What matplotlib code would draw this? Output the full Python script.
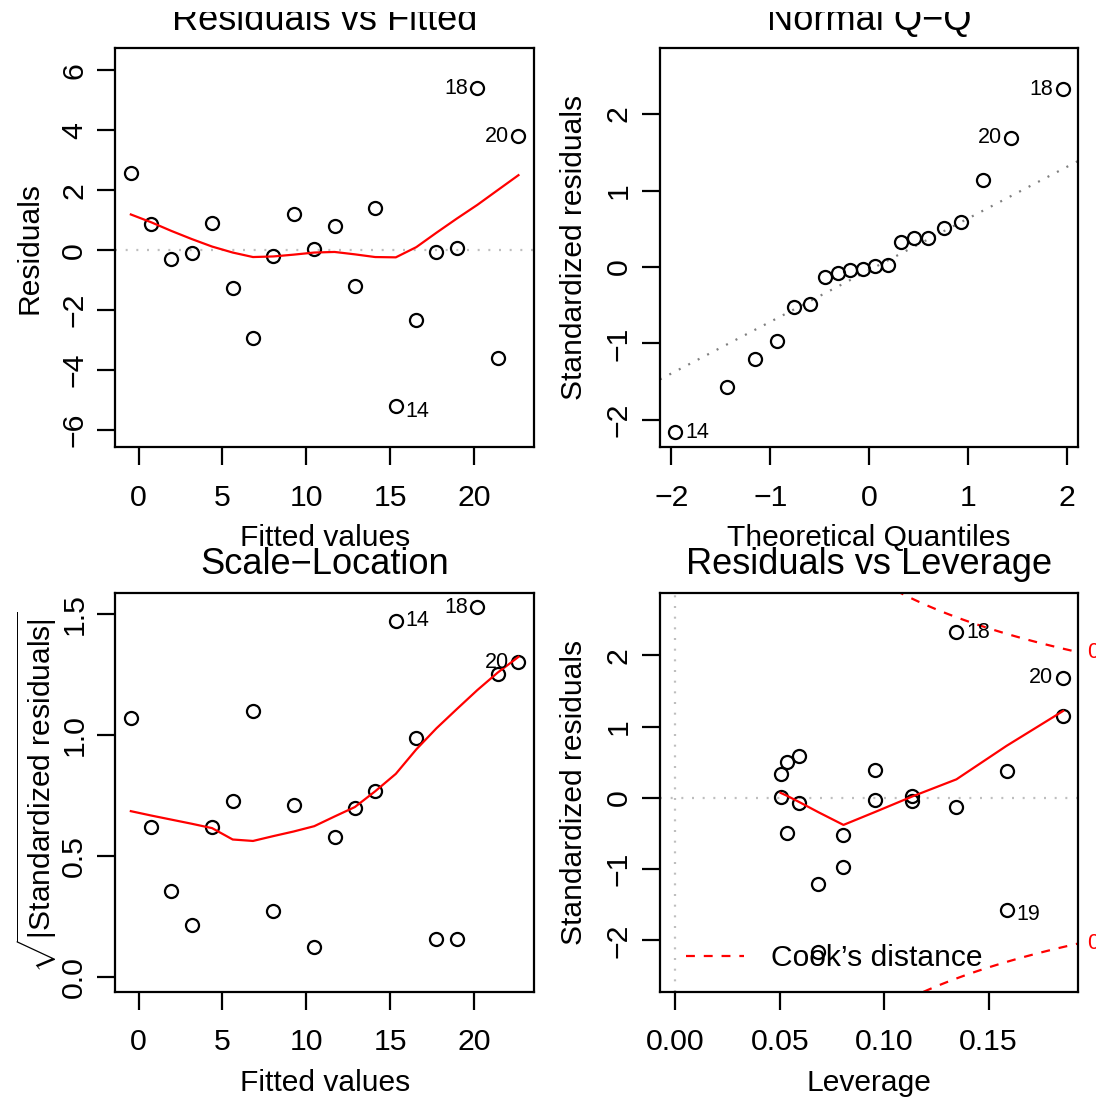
import numpy as np
import matplotlib
matplotlib.use("Agg")
import matplotlib.pyplot as plt
from matplotlib.lines import Line2D
from matplotlib.transforms import Bbox, TransformedBbox

plt.rcParams['font.family'] = ['Liberation Sans', 'DejaVu Sans']
plt.rcParams['mathtext.fontset'] = 'custom'
plt.rcParams['mathtext.rm'] = 'Liberation Sans'
plt.rcParams['mathtext.it'] = 'Liberation Sans:italic'
plt.rcParams['mathtext.bf'] = 'Liberation Sans:bold'
plt.rcParams['axes.unicode_minus'] = True

# ---------------- data ----------------
obs_ids = list(range(1, 21))
fitted = [-0.46, 0.75, 1.96, 3.17, 4.38, 5.61, 6.82, 8.03, 9.24, 10.47,
          11.68, 12.89, 14.10, 15.33, 16.55, 17.75, 18.96, 20.19, 21.40, 22.64]
residuals = [2.58, 0.87, -0.29, -0.09, 0.92, -1.26, -2.92, -0.19, 1.22, 0.05,
             0.80, -1.18, 1.41, -5.21, -2.32, -0.06, 0.06, 5.39, -3.58, 3.79]
std_resid = [1.143, 0.381, -0.125, -0.045, 0.384, -0.527, -1.208, -0.073, 0.504, 0.015,
             0.332, -0.487, 0.587, -2.164, -0.970, -0.025, 0.024, 2.326, -1.568, 1.687]
leverage = [0.1857, 0.1586, 0.1346, 0.1135, 0.0955, 0.0805, 0.0684, 0.0594, 0.0534, 0.0504,
            0.0504, 0.0534, 0.0594, 0.0684, 0.0805, 0.0955, 0.1135, 0.1346, 0.1586, 0.1857]
theoretical_q = [-1.96, -1.44, -1.15, -0.93, -0.76, -0.60, -0.45, -0.32, -0.19, -0.06,
                 0.06, 0.19, 0.32, 0.45, 0.60, 0.76, 0.93, 1.15, 1.44, 1.96]
# red smoother curves, read at each x position
fit_smooth = [1.19, 0.93, 0.64, 0.37, 0.12, -0.08, -0.23, -0.21, -0.15, -0.08,
              -0.06, -0.14, -0.23, -0.24, 0.10, 0.58, 1.05, 1.51, 2.00, 2.50]
scale_smooth = [0.684, 0.666, 0.649, 0.632, 0.614, 0.567, 0.561, 0.581, 0.600, 0.622,
                0.662, 0.701, 0.766, 0.838, 0.939, 1.026, 1.105, 1.184, 1.256, 1.321]
lev_smooth_x = [0.0504, 0.0534, 0.0594, 0.0684, 0.0805, 0.0955, 0.1135, 0.1346, 0.1586, 0.1857]
lev_smooth_y = [0.07, 0.03, -0.06, -0.20, -0.38, -0.20, 0.02, 0.26, 0.73, 1.22]
cook_levels = [0.5, 1.0]
n_coef = 2

ids_fit = [14, 18, 20]
ids_qq = [14, 18, 20]
ids_scale = [14, 18, 20]
ids_lev = [18, 19, 20]

titles = ["Residuals vs Fitted", "Normal Q\u2212Q", "Scale\u2212Location", "Residuals vs Leverage"]
xlabels = ["Fitted values", "Theoretical Quantiles", "Fitted values", "Leverage"]
ylabels = ["Residuals", "Standardized residuals",
           r"$\sqrt{|\mathrm{Standardized\ residuals}|}$", "Standardized residuals"]

# ---------------- layout ----------------
W, H = 1096, 1099
fig = plt.figure(figsize=(W / 100, H / 100), dpi=100)

TICK_FS = 21.8
LAB_FS = 21.6
TITLE_FS = 26.1
ID_FS = 15.5
LW = 1.6
RED = "#FF0000"
DOT = (0, (0.9, 3.9))
DASH = (0, (4.0, 4.0))

boxes = [(115.4, 48.3, 533.9, 446.9), (659.9, 48.3, 1078.4, 446.9),
         (115.4, 592.7, 533.9, 991.6), (659.9, 592.7, 1078.4, 991.6)]


def fmt(v, nd=None):
    s = f"{v:.{nd}f}" if nd is not None else f"{v:g}"
    return s.replace("-", "\u2212")


axes = []
for i, (l, t, r, b) in enumerate(boxes):
    ax = fig.add_axes([l / W, 1 - b / H, (r - l) / W, (b - t) / H])
    for sp in ax.spines.values():
        sp.set_linewidth(LW)
    ax.tick_params(direction="out", length=13, width=LW, labelsize=TICK_FS, color="black")
    ax.tick_params(axis="x", pad=13.5)
    ax.tick_params(axis="y", pad=6.5)
    axes.append(ax)
    cx = (l + r) / 2
    cy = (t + b) / 2
    fig.text(cx / W, 1 - (b + 99) / H, xlabels[i], fontsize=LAB_FS, ha="center", va="baseline")
    ylx = l - 78 if i != 2 else l - 64
    fig.text(ylx / W, 1 - cy / H, ylabels[i], fontsize=LAB_FS, rotation=90,
             rotation_mode="anchor", ha="center", va="baseline")
    tb = t - 18 if i < 2 else t - 18.7
    tt = fig.text(cx / W, 1 - tb / H, titles[i], fontsize=TITLE_FS, ha="center", va="baseline")
    if i < 2:
        clip = TransformedBbox(Bbox.from_extents(0, 0, 1, 1 - 11.7 / H), fig.transFigure)
        tt.set_clip_box(clip)
        tt.set_clip_on(True)


def label_points(ax, xs, ys, ids, shift_neg=False):
    xs_l = [xs[k - 1] for k in ids]
    mid = (min(xs_l) + max(xs_l)) / 2
    for k in ids:
        x, y = xs[k - 1], ys[k - 1]
        dy = -3.6 if (shift_neg and y < 0) else 0
        if x > mid:
            ax.annotate(str(k), (x, y), xytext=(-7, dy), textcoords="offset points",
                        ha="right", va="center", fontsize=ID_FS, annotation_clip=False)
        else:
            ax.annotate(str(k), (x, y), xytext=(7, dy), textcoords="offset points",
                        ha="left", va="center", fontsize=ID_FS, annotation_clip=False)


pt_kw = dict(ls="none", marker="o", ms=9.4, mfc="none", mec="black", mew=1.6)

# ---- 1. Residuals vs Fitted
ax = axes[0]
ax.axhline(0, color="#BEBEBE", lw=LW, ls=DOT)
ax.plot(fitted, residuals, **pt_kw)
ax.plot(fitted, fit_smooth, color=RED, lw=LW)
ax.set_xlim(-1.38, 23.56)
ax.set_ylim(-6.56, 6.73)
xt = [0, 5, 10, 15, 20]
ax.set_xticks(xt, [fmt(v) for v in xt])
yt = [-6, -4, -2, 0, 2, 4, 6]
ax.set_yticks(yt, [fmt(v) for v in yt], rotation=90, va="center")
label_points(ax, fitted, residuals, ids_fit, shift_neg=True)

# ---- 2. Normal Q-Q
ax = axes[1]
order = np.argsort(std_resid)
sorted_r = np.array(std_resid)[order]
sorted_ids = np.array(obs_ids)[order]
q1, q3 = np.quantile(sorted_r, [0.25, 0.75])
slope = (q3 - q1) / (2 * 0.6744898)
icpt = q1 + 0.6744898 * slope
ax.axline((0, icpt), slope=slope, color="#7F7F7F", lw=LW, ls=DOT)
ax.plot(theoretical_q, sorted_r, **pt_kw)
ax.set_xlim(-2.117, 2.117)
ax.set_ylim(-2.353, 2.86)
xt = [-2, -1, 0, 1, 2]
ax.set_xticks(xt, [fmt(v) for v in xt])
yt = [-2, -1, 0, 1, 2]
ax.set_yticks(yt, [fmt(v) for v in yt], rotation=90, va="center")
qx_by_id = [0.0] * 20
qy_by_id = [0.0] * 20
for j, k in enumerate(sorted_ids):
    qx_by_id[k - 1] = theoretical_q[j]
    qy_by_id[k - 1] = sorted_r[j]
label_points(ax, qx_by_id, qy_by_id, ids_qq)

# ---- 3. Scale-Location
ax = axes[2]
sqrt_abs = np.sqrt(np.abs(std_resid))
ax.plot(fitted, sqrt_abs, **pt_kw)
ax.plot(fitted, scale_smooth, color=RED, lw=LW)
ax.set_xlim(-1.38, 23.56)
ax.set_ylim(-0.061, 1.586)
xt = [0, 5, 10, 15, 20]
ax.set_xticks(xt, [fmt(v) for v in xt])
yt = [0.0, 0.5, 1.0, 1.5]
ax.set_yticks(yt, [fmt(v, 1) for v in yt], rotation=90, va="center")
label_points(ax, fitted, list(sqrt_abs), ids_scale)

# ---- 4. Residuals vs Leverage
ax = axes[3]
xlo, xhi = -0.0074, 0.193
ylo, yhi = -2.72, 2.88
ax.axhline(0, color="#BEBEBE", lw=LW, ls=DOT)
ax.axvline(0, color="#BEBEBE", lw=LW, ls=DOT)
ax.plot(leverage, std_resid, **pt_kw)
ax.plot(lev_smooth_x, lev_smooth_y, color=RED, lw=LW)
hh = np.linspace(min(min(leverage), max(leverage) / 100), xhi, 101)
for lvl in cook_levels:
    cl = np.sqrt(lvl * n_coef * (1 - hh) / hh)
    ax.plot(hh, cl, color=RED, lw=LW, ls=DASH)
    ax.plot(hh, -cl, color=RED, lw=LW, ls=DASH)
ax.set_xlim(xlo, xhi)
ax.set_ylim(ylo, yhi)
ymult = np.sqrt(n_coef * (1 - xhi) / xhi)
for lvl in cook_levels:
    aty = np.sqrt(lvl) * ymult
    for yy in (aty, -aty):
        if ylo <= yy <= yhi:
            ax.annotate(fmt(lvl), (1.0, yy), xycoords=("axes fraction", "data"),
                        xytext=(6, 0), textcoords="offset points", ha="left", va="center",
                        fontsize=ID_FS, color=RED, annotation_clip=False)
xt = [0.0, 0.05, 0.10, 0.15]
ax.set_xticks(xt, [fmt(v, 2) for v in xt])
yt = [-2, -1, 0, 1, 2]
ax.set_yticks(yt, [fmt(v) for v in yt], rotation=90, va="center")
label_points(ax, leverage, std_resid, ids_lev, shift_neg=True)
ax.legend(handles=[Line2D([], [], color=RED, lw=LW, ls=DASH)],
          labels=["Cook\u2019s distance"], loc="lower left",
          bbox_to_anchor=(0.0624, 0.049), frameon=False, fontsize=LAB_FS,
          handlelength=1.92, handletextpad=0.92, borderpad=0, borderaxespad=0)

fig.savefig("out.png", dpi=100)
